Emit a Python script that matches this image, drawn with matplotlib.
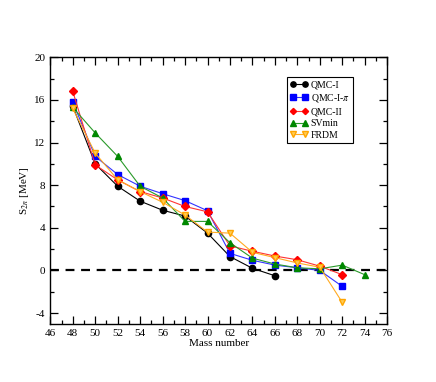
import matplotlib
matplotlib.use("Agg")
import matplotlib.pyplot as plt
from matplotlib.ticker import MultipleLocator

plt.rcParams["font.family"] = ["Liberation Serif", "DejaVu Serif"]
plt.rcParams["mathtext.fontset"] = "stix"
plt.rcParams["axes.unicode_minus"] = False

# S2n values
a_qmc1 = [48, 50, 52, 54, 56, 58, 60, 62, 64, 66]
s_qmc1 = [15.4, 10.0, 7.9, 6.5, 5.65, 5.1, 3.5, 1.3, 0.2, -0.5]

a_qmc1pi = [48, 50, 52, 54, 56, 58, 60, 62, 64, 66, 68, 70, 72]
s_qmc1pi = [15.8, 10.7, 9.0, 7.9, 7.2, 6.55, 5.6, 1.6, 0.95, 0.5, 0.25, 0.0, -1.5]

a_qmc2 = [48, 50, 52, 54, 56, 58, 60, 62, 64, 66, 68, 70, 72]
s_qmc2 = [16.8, 9.9, 8.5, 7.4, 6.8, 6.0, 5.5, 2.3, 1.8, 1.35, 1.0, 0.4, -0.4]

a_svmin = [48, 50, 52, 54, 56, 58, 60, 62, 64, 66, 68, 70, 72, 74]
s_svmin = [15.3, 12.9, 10.7, 7.9, 6.8, 4.6, 4.6, 2.6, 1.15, 0.6, 0.25, 0.15, 0.5, -0.4]

a_frdm = [48, 50, 52, 54, 56, 58, 60, 62, 64, 66, 68, 70, 72]
s_frdm = [15.2, 11.0, 8.5, 7.4, 6.4, 5.2, 3.6, 3.5, 1.7, 1.2, 0.7, 0.3, -3.0]

fig = plt.figure(figsize=(4.36, 3.82), dpi=100)
ax = fig.add_axes([0.1154, 0.1526, 0.7726, 0.6974])

ax.axhline(0.0, color="k", lw=1.6, ls=(0, (4, 3)), zorder=1)

ms = 4.5
ax.plot(a_qmc1, s_qmc1, color="k", lw=0.8, marker="o", ms=ms, label="QMC-I")
ax.plot(a_qmc1pi, s_qmc1pi, color="#3333ff", lw=0.8, marker="s", ms=ms,
        mfc="#0000ff", mec="#0000ff", label="QMC-I-$\\pi$")
ax.plot(a_qmc2, s_qmc2, color="#ff3333", lw=0.8, marker="D", ms=ms - 0.8,
        mfc="#ff0000", mec="#ff0000", label="QMC-II")
ax.plot(a_svmin, s_svmin, color="#2a9a2a", lw=0.8, marker="^", ms=ms,
        mfc="#008800", mec="#008800", label="SVmin")
ax.plot(a_frdm, s_frdm, color="#ffaa22", lw=0.8, marker="v", ms=ms + 0.5,
        mfc="#ffcc55", mec="#ffa500", mew=1.0, label="FRDM")

ax.set_xlim(46, 76)
ax.set_ylim(-5, 20)
ax.xaxis.set_major_locator(MultipleLocator(2))
ax.xaxis.set_minor_locator(MultipleLocator(1))
ax.yaxis.set_major_locator(MultipleLocator(4))
ax.yaxis.set_minor_locator(MultipleLocator(2))
ax.tick_params(which="both", direction="in", top=True, right=True, labelsize=8, width=0.9)
ax.tick_params(which="major", length=6)
ax.tick_params(which="minor", length=3)
for sp in ax.spines.values():
    sp.set_linewidth(1.0)

ax.set_xlabel("Mass number", fontsize=8, labelpad=1)
ax.set_ylabel("S$_{2n}$ [MeV]", fontsize=8, labelpad=2)

leg = ax.legend(loc="upper left", bbox_to_anchor=(0.688, 0.945), fontsize=7,
                frameon=True, fancybox=False, edgecolor="k", framealpha=1,
                numpoints=2, markerscale=0.85,
                handlelength=1.8, borderpad=0.35, labelspacing=0.3, handletextpad=0.3)
leg.get_frame().set_linewidth(0.8)

fig.savefig("out.png", dpi=100)
